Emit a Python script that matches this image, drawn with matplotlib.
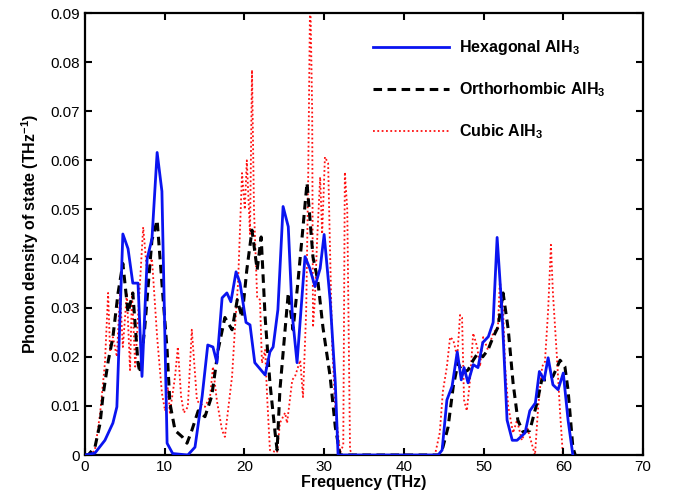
import matplotlib
matplotlib.use("Agg")
import matplotlib.pyplot as plt

plt.rcParams['font.family'] = ['Liberation Sans', 'DejaVu Sans']
plt.rcParams['mathtext.fontset'] = 'custom'
plt.rcParams['mathtext.rm'] = 'Liberation Sans:bold'
plt.rcParams['mathtext.bf'] = 'Liberation Sans:bold'
plt.rcParams['mathtext.default'] = 'bf'

# Hexagonal AlH3 (blue, solid)
hex_f = [0, 1.25, 2.5, 3.5, 4.0, 4.75, 5.4, 6.0, 6.65, 7.15, 7.8, 8.4, 9.05, 9.65,
         10.3, 11.0, 12.9, 13.8, 14.7, 15.4, 16.05, 16.55, 17.2, 17.8, 18.3, 18.95,
         19.45, 20.2, 20.7, 21.3, 22.6, 23.2, 23.6, 24.2, 24.85, 25.5, 26.0, 26.6,
         27.6, 28.2, 28.85, 29.5, 30.0, 30.75, 31.4, 31.75, 44.3, 44.8, 45.4, 46.05,
         46.7, 47.2, 47.55, 48.05, 48.7, 49.3, 49.9, 50.6, 51.2, 51.7, 52.3, 52.95,
         53.6, 54.2, 55.2, 55.8, 56.5, 57.0, 57.6, 58.1, 58.7, 59.35, 60.0, 60.6, 61.2]
hex_d = [0, 0.0004, 0.003, 0.0065, 0.0098, 0.045, 0.042, 0.035, 0.035, 0.016, 0.040,
         0.044, 0.0616, 0.0537, 0.0024, 0.0003, 0, 0.0016, 0.012, 0.0224, 0.022, 0.0188,
         0.032, 0.033, 0.0312, 0.0373, 0.035, 0.027, 0.0265, 0.0188, 0.0163, 0.021,
         0.022, 0.0296, 0.0506, 0.0465, 0.0286, 0.0188, 0.0404, 0.038, 0.0343, 0.038,
         0.0449, 0.0316, 0.0147, 0, 0, 0.001, 0.0112, 0.014, 0.021, 0.0153, 0.0178,
         0.0147, 0.0184, 0.0178, 0.0229, 0.0241, 0.027, 0.0443, 0.0296, 0.0071, 0.003,
         0.003, 0.0045, 0.009, 0.0106, 0.017, 0.0153, 0.0198, 0.0143, 0.0133, 0.0167,
         0.0071, 0]

# Orthorhombic AlH3 (black, dashed)
ort_f = [0, 0.4, 1.25, 1.9, 2.25, 2.9, 3.5, 4.15, 4.75, 5.4, 6.0, 6.65, 6.9, 7.5, 8.4,
         9.05, 9.65, 10.3, 10.65, 11.3, 12.2, 12.8, 13.4, 14.2, 15.05, 15.9, 16.7,
         17.55, 18.45, 19.1, 19.7, 20.3, 20.95, 21.6, 22.1, 22.6, 23.2, 23.85, 24.1,
         24.45, 25.1, 25.5, 26.1, 26.7, 27.35, 27.85, 28.2, 28.6, 29.2, 29.85, 30.75,
         31.4, 32.0, 44.5, 44.9, 45.55, 46.2, 46.8, 47.4, 48.05, 48.7, 49.3, 49.9,
         50.55, 51.2, 51.8, 52.45, 53.1, 53.7, 54.3, 54.95, 55.8, 56.7, 57.3, 58.1,
         58.7, 59.6, 60.2, 60.6, 61.2, 61.5]
ort_d = [0, 0, 0.0016, 0.0065, 0.012, 0.019, 0.024, 0.033, 0.039, 0.029, 0.033, 0.0187,
         0.0167, 0.026, 0.0438, 0.0478, 0.035, 0.0214, 0.0106, 0.005, 0.0037, 0.0024,
         0.005, 0.009, 0.0078, 0.012, 0.0214, 0.028, 0.0255, 0.0316, 0.028, 0.0377,
         0.0458, 0.0377, 0.0444, 0.028, 0.0147, 0.0045, 0.001, 0.0132, 0.0255, 0.033,
         0.0255, 0.035, 0.0464, 0.0554, 0.0485, 0.0403, 0.0356, 0.026, 0.016, 0.0057,
         0, 0, 0.0016, 0.0057, 0.014, 0.0187, 0.0167, 0.0173, 0.0193, 0.0208, 0.020,
         0.0214, 0.024, 0.026, 0.033, 0.0255, 0.0147, 0.0071, 0.0047, 0.005, 0.0106,
         0.0153, 0.0153, 0.016, 0.0193, 0.018, 0.0132, 0.0016, 0]

# Cubic AlH3 (red, dotted)
cub_f = [0, 0.9, 1.25, 1.9, 2.5, 2.9, 3.15, 3.5, 4.0, 4.4, 4.75, 5.25, 5.65, 5.9, 6.3,
         6.65, 7.3, 7.8, 8.4, 9.05, 9.65, 10.05, 10.4, 10.65, 11.3, 11.65, 12.05, 12.4,
         12.9, 13.4, 14.05, 15.05, 15.7, 16.05, 16.55, 17.2, 17.55, 18.45, 18.8, 19.2,
         19.7, 20.05, 20.3, 20.7, 20.95, 21.2, 21.6, 21.95, 22.2, 22.6, 22.85, 23.2,
         24.1, 24.45, 25.1, 25.35, 26.0, 26.35, 27.0, 27.35, 27.75, 28.0, 28.25, 28.5,
         28.6, 28.85, 29.1, 29.5, 29.75, 30.1, 30.5, 31.0, 31.4, 32.0, 32.4, 32.6,
         32.9, 33.25, 33.6, 43.9, 44.5, 44.9, 45.4, 45.8, 46.2, 46.7, 47.05, 47.3,
         47.55, 47.9, 48.3, 48.7, 49.2, 49.55, 49.95, 50.55, 51.2, 51.8, 52.05, 52.45,
         52.7, 53.1, 53.7, 54.2, 54.8, 55.45, 56.1, 56.45, 56.85, 57.35, 57.7, 58.1,
         58.45, 58.7, 59.2, 59.6, 59.95, 61.0]
cub_d = [0, 0.0003, 0.001, 0.0085, 0.0187, 0.033, 0.021, 0.024, 0.020, 0.033, 0.022,
         0.033, 0.0173, 0.033, 0.018, 0.028, 0.0464, 0.037, 0.040, 0.024, 0.0126, 0.009,
         0.0138, 0.0086, 0.016, 0.022, 0.012, 0.0086, 0.0098, 0.0255, 0.011, 0.0098,
         0.012, 0.018, 0.011, 0.005, 0.0037, 0.016, 0.0255, 0.035, 0.0574, 0.050, 0.060,
         0.045, 0.0784, 0.050, 0.032, 0.0316, 0.0187, 0.0214, 0.0118, 0.001, 0.0005,
         0.0065, 0.0086, 0.0065, 0.0153, 0.016, 0.0193, 0.0118, 0.0295, 0.0566, 0.095,
         0.070, 0.026, 0.032, 0.043, 0.0566, 0.045, 0.0607, 0.0594, 0.0228, 0.0092,
         0.0005, 0.002, 0.0576, 0.050, 0.001, 0, 0, 0.0045, 0.013, 0.018, 0.024, 0.0234,
         0.020, 0.0285, 0.028, 0.0112, 0.009, 0.0153, 0.0248, 0.022, 0.018, 0.024,
         0.0214, 0.0248, 0.026, 0.0356, 0.0295, 0.018, 0.0098, 0.0045, 0.0071, 0.003,
         0.0057, 0.002, 0, 0.0098, 0.018, 0.019, 0.0295, 0.0428, 0.033, 0.020, 0.0086,
         0, 0]

fig = plt.figure(figsize=(6.81, 5.04), dpi=100)
ax = fig.add_axes([0.1248, 0.0972, 0.8194, 0.877])

ax.plot(hex_f, hex_d, color='#0a14f0', lw=2.0, label=r'Hexagonal AlH$_3$', zorder=3)
ax.plot(ort_f, ort_d, color='black', lw=2.2, dashes=(2.8, 1.8),
        label=r'Orthorhombic AlH$_3$', zorder=2)
ax.plot(cub_f, cub_d, color='#ff1010', lw=1.3, ls=(0, (1, 1.4)),
        label=r'Cubic AlH$_3$', zorder=1)

ax.set_xlim(0, 70)
ax.set_ylim(0, 0.09)
ax.set_xticks(range(0, 71, 10))
ax.set_yticks([0, 0.01, 0.02, 0.03, 0.04, 0.05, 0.06, 0.07, 0.08, 0.09])
ax.set_yticklabels(['0', '0.01', '0.02', '0.03', '0.04', '0.05', '0.06', '0.07', '0.08', '0.09'])
ax.tick_params(direction='in', top=True, right=True, length=5, width=1.5, labelsize=11)
for s in ax.spines.values():
    s.set_linewidth(1.6)

ax.set_xlabel('Frequency (THz)', fontsize=11.5, fontweight='bold', labelpad=1)
ax.set_ylabel(r'Phonon density of state (THz$^{-1}$)', fontsize=11.5,
              fontweight='bold', labelpad=7)

leg = ax.legend(loc='upper left', bbox_to_anchor=(0.49, 0.975), frameon=False,
                handlelength=4.8, handletextpad=0.6, labelspacing=1.45,
                prop={'weight': 'bold', 'size': 11.5})

fig.savefig('out.png', dpi=100)
